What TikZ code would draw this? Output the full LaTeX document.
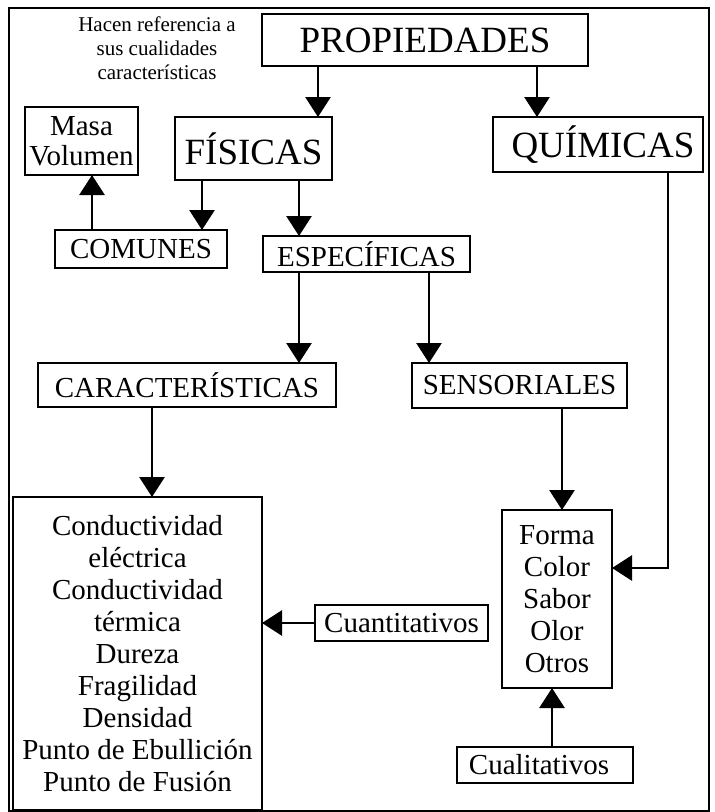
\documentclass[tikz,border=0pt]{standalone}
\usepackage{fontspec}
\setmainfont{Liberation Serif}
\usetikzlibrary{arrows.meta}

\begin{document}
\begin{tikzpicture}[x=1pt,y=-1pt,inner sep=0pt,outer sep=0pt,line width=2.8pt,
propblock/.style={draw,rectangle,inner sep=0pt,align=center,font=\fontsize{29}{32}\selectfont},
bigblock/.style={propblock,font=\fontsize{37}{40}\selectfont},
arr/.style={-{Triangle[width=25pt,length=20pt]},line width=2.8pt}]

\useasboundingbox (0,0) rectangle (715,812);
\draw[line width=2pt] (9,8) rectangle (709,811);

\draw (157,48) node[align=center,font=\fontsize{21}{24}\selectfont] (nota) {Hacen referencia a\\sus cualidades\\características};
\draw (425,40) node[bigblock,minimum width=326,minimum height=52] (props) {PROPIEDADES};
\draw (253.5,148.5) node[bigblock,minimum width=157,minimum height=63] (fisicas) {FÍSICAS};
\draw (598,144.5) node[bigblock,minimum width=210,minimum height=55] (quimicas) {\hspace*{10pt}QUÍMICAS};
\draw (81.5,141) node[propblock,minimum width=113,minimum height=68,font=\fontsize{29}{30}\selectfont] (masa) {Masa\\Volumen};
\draw (141,249) node[propblock,minimum width=172,minimum height=38] (comunes) {COMUNES};
\draw (366.5,254) node[propblock,minimum width=207,minimum height=36] (especificas) {ESPECÍFICAS};
\draw (187,385) node[propblock,minimum width=298,minimum height=44] (caract) {CARACTERÍSTICAS};
\draw (519.5,385.5) node[propblock,minimum width=215,minimum height=45] (sensor) {SENSORIALES};
\draw (137.5,653.5) node[propblock,minimum width=249,minimum height=313] (lista) {Conductividad\\eléctrica\\Conductividad\\térmica\\Dureza\\Fragilidad\\Densidad\\Punto de Ebullición\\Punto de Fusión};
\draw (557,599) node[propblock,minimum width=110,minimum height=178] (forma) {Forma\\Color\\Sabor\\Olor\\Otros};
\draw (401.5,623) node[propblock,minimum width=173,minimum height=36] (cuant) {Cuantitativos};
\draw (545,765) node[propblock,minimum width=176,minimum height=36] (cualit) {Cualitativos\hspace*{12pt}};

% conectores
\draw[arr] ([xshift=-14]fisicas.north east |- props.south) -- ([xshift=-14]fisicas.north east);
\draw[arr] ([xshift=44]quimicas.north west |- props.south) -- ([xshift=44]quimicas.north west);
\draw[arr] ([xshift=-25]comunes.north east |- fisicas.south) -- ([xshift=-25]comunes.north east);
\draw[arr] ([xshift=37]comunes.north west) -- ([xshift=37]comunes.north west |- masa.south);
\draw[arr] ([xshift=36]especificas.north west |- fisicas.south) -- ([xshift=36]especificas.north west);
\draw[arr] ([xshift=36]especificas.south west) -- ([xshift=36]especificas.south west |- caract.north);
\draw[arr] ([xshift=17]sensor.north west |- especificas.south) -- ([xshift=17]sensor.north west);
\draw[arr] ([xshift=114]caract.south west) -- ([xshift=114]caract.south west |- lista.north);
\draw[arr] ([xshift=5]forma.north |- sensor.south) -- ([xshift=5]forma.north);
\draw[arr] ([xshift=-35]quimicas.south east) |- ([yshift=31]forma.east);
\draw[arr] (cuant.west) -- (cuant.west -| lista.east);
\draw[arr] ([xshift=-5]forma.south |- cualit.north) -- ([xshift=-5]forma.south);
\end{tikzpicture}
\end{document}
